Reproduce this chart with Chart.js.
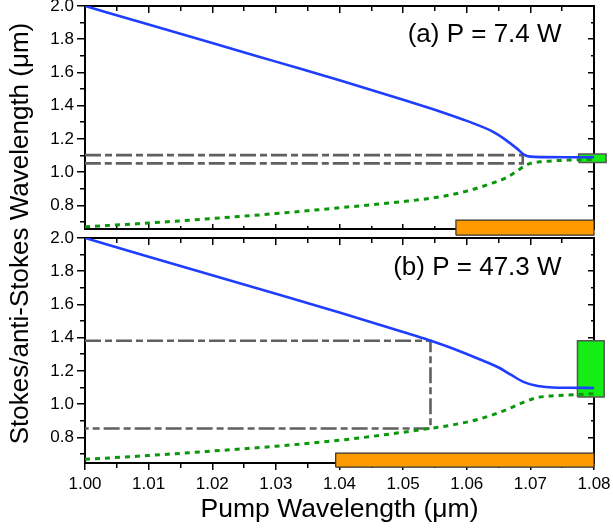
<!DOCTYPE html>
<html>
<head>
<meta charset="utf-8">
<script src="https://cdn.jsdelivr.net/npm/chart.js@4.4.1/dist/chart.umd.min.js"></script>
<style>
  html, body { margin: 0; padding: 0; background: #fff; }
</style>
</head>
<body>
<canvas id="chart" width="613" height="529"></canvas>
<script>
// pump wavelength samples (µm)
const pumpA = [1.000, 1.010, 1.020, 1.030, 1.040, 1.050, 1.056, 1.060, 1.064, 1.066, 1.068, 1.069, 1.070, 1.072, 1.076, 1.080];
const pumpB = [1.000, 1.010, 1.020, 1.030, 1.040, 1.050, 1.054, 1.058, 1.062, 1.065, 1.067, 1.069, 1.071, 1.073, 1.076, 1.080];

// (a) P = 7.4 W
const stokesA = [2.000, 1.888, 1.777, 1.665, 1.553, 1.435, 1.362, 1.308, 1.245, 1.197, 1.138, 1.105, 1.093, 1.090, 1.089, 1.089];
const antiA   = [0.670, 0.693, 0.720, 0.750, 0.785, 0.822, 0.852, 0.885, 0.933, 0.962, 1.008, 1.035, 1.052, 1.063, 1.072, 1.076];
// (b) P = 47.3 W
const stokesB = [2.000, 1.887, 1.775, 1.664, 1.551, 1.434, 1.386, 1.332, 1.270, 1.220, 1.175, 1.132, 1.110, 1.101, 1.098, 1.097];
const antiB   = [0.667, 0.690, 0.717, 0.746, 0.782, 0.830, 0.852, 0.876, 0.910, 0.948, 0.978, 1.012, 1.038, 1.048, 1.055, 1.062];

// dash-dot guide boxes
const guideAx = [1.000, 1.0688, 1.0688, 1.000];
const guideAy = [1.102, 1.102, 1.052, 1.052];
const guideBx = [1.000, 1.0543, 1.0543, 1.000];
const guideBy = [1.381, 1.381, 0.853, 0.853];

// gain band (green) and pump band (orange)
const gainAx = [1.0776, 1.0819], gainAy = [1.058, 1.108];
const gainBx = [1.0774, 1.0816], gainBy = [1.042, 1.381];
const bandAx = [1.0583, 1.080],  bandAy = [0.620, 0.711];
const bandBx = [1.0394, 1.080],  bandBy = [0.620, 0.705];

// axes
const xRange = [1.00, 1.08];
const yRangeA = [0.657, 2.0];
const yRangeB = [0.645, 2.0];
const noteText = ['(a) P = 7.4 W', '(b) P = 47.3 W'];

const FONT = "'Liberation Sans', Arial, Helvetica, sans-serif";
Chart.defaults.font.family = FONT;
Chart.defaults.color = '#000';

const pts = (xs, ys) => xs.map((x, i) => ({x, y: ys[i]}));
const rect = (xs, ys) => pts([xs[0], xs[1], xs[1], xs[0], xs[0]], [ys[0], ys[0], ys[1], ys[1], ys[0]]);
const onStep = (v, s) => Math.abs(v / s - Math.round(v / s)) < 1e-6;
// minor ticks: only a short piece of the tick line is drawn, next to the axis
const tickDash = (step, len, minor, fromAxis) => c =>
  (c.tick && onStep(c.tick.value, step)) ? [] : (fromAxis ? [minor, 40] : [0, len - minor, minor, 40]);

const curve = (data, axis, color, width, dash) => ({
  data, yAxisID: axis, borderColor: color, borderWidth: width, borderDash: dash || [],
  pointRadius: 0, cubicInterpolationMode: 'monotone', fill: false, borderCapStyle: 'butt'
});
const box = (data, axis, fillColor, edge, width) => ({
  data, yAxisID: axis, borderColor: edge, borderWidth: width, backgroundColor: fillColor,
  pointRadius: 0, tension: 0, fill: 'shape', clip: false
});

const BLUE = '#1f3dff', GREEN = '#0c960c', GRAY = '#606060';
const DOTS = [5, 5], DASHDOT = [16, 4, 7, 4];

const datasets = [
  curve(pts(pumpA, stokesA), 'yA', BLUE, 2.6),
  curve(pts(pumpB, stokesB), 'yB', BLUE, 2.6),
  curve(pts(pumpA, antiA), 'yA', GREEN, 3, DOTS),
  curve(pts(pumpB, antiB), 'yB', GREEN, 3, DOTS),
  {...curve(pts(guideAx, guideAy), 'yA', GRAY, 2.6, DASHDOT), cubicInterpolationMode: 'default', tension: 0},
  {...curve(pts(guideBx, guideBy), 'yB', GRAY, 2.6, DASHDOT), cubicInterpolationMode: 'default', tension: 0},
  box(rect(gainAx, gainAy), 'yA', '#14ee14', '#555', 1.5),
  box(rect(gainBx, gainBy), 'yB', '#14ee14', '#555', 1.5),
  box(rect(bandAx, bandAy), 'yA', '#ff9a00', '#333', 1.2),
  box(rect(bandBx, bandBy), 'yB', '#ff9a00', '#333', 1.2)
];

const tickGrid = (len, dash) => ({
  drawOnChartArea: false, tickLength: len, tickWidth: 1.5, tickColor: '#000',
  color: '#000', lineWidth: 1.5, tickBorderDash: dash
});

// left axis of one panel
function leftAxis(range, weight, stackWeight) {
  return {
    type: 'linear', position: 'left', stack: 'left', stackWeight, weight,
    min: range[0], max: range[1],
    ticks: { stepSize: 0.1, includeBounds: false, autoSkip: false, padding: 3, font: {size: 17}, color: '#000',
      callback: v => onStep(v, 0.2) ? v.toFixed(1) : '' },
    grid: tickGrid(8, tickDash(0.2, 8, 5, false)),
    border: { color: '#000', width: 2 },
    afterFit: s => { s.width = 85; s.paddingTop = 0; s.paddingBottom = 0; }
  };
}
// right frame of one panel, ticks pointing inward
function rightAxis(range, weight, stackWeight) {
  return {
    type: 'linear', position: 'right', stack: 'right', stackWeight, weight,
    min: range[0], max: range[1],
    ticks: { display: false, stepSize: 0.1, includeBounds: false, autoSkip: false },
    grid: tickGrid(-6, tickDash(0.2, 6, 4, true)),
    border: { color: '#000', width: 2 },
    afterFit: s => { s.width = 0; s.paddingTop = 0; s.paddingBottom = 0; }
  };
}
// horizontal frame line placed on a panel edge
function frameX(pos, len, z) {
  return {
    type: 'linear', axis: 'x', position: pos, min: xRange[0], max: xRange[1], z: z || 0,
    ticks: { display: false, stepSize: 0.005, autoSkip: false },
    grid: tickGrid(len, tickDash(0.01, 6, 4, true)),
    border: { color: '#000', width: 2 }
  };
}
const spacer = (position, weight, title) => ({
  type: 'linear', position, stack: position, stackWeight: 9, weight, min: 0, max: 1,
  ticks: { display: false }, grid: { display: false }, border: { display: false },
  title: title ? { display: true, text: title, font: {size: 26}, color: '#000', padding: {top: 5, bottom: 0} } : { display: false },
  afterFit: s => { s.width = position === 'left' ? 85 : 0; s.paddingTop = 0; s.paddingBottom = 0; }
});

// the band boxes poke out of the frame, so let their fill run past the plot area
const looseFill = {
  id: 'looseFill',
  beforeDatasetsDraw(chart) {
    const a = chart.chartArea;
    chart.$keptArea = {...a};
    a.right += 16; a.bottom += 8; a.width += 16; a.height += 8;
  },
  afterDatasetsDraw(chart) {
    Object.assign(chart.chartArea, chart.$keptArea);
  }
};

const notePlugin = {
  id: 'notes',
  afterDatasetsDraw(chart) {
    const {ctx, scales} = chart;
    ctx.save();
    ctx.font = '26px ' + FONT;
    ctx.fillStyle = '#000';
    ctx.textAlign = 'right';
    ctx.textBaseline = 'alphabetic';
    const xr = scales.x.getPixelForValue(1.0749);
    ctx.fillText(noteText[0], xr, scales.yA.getPixelForValue(1.785));
    ctx.fillText(noteText[1], xr, scales.yB.getPixelForValue(1.779));
    ctx.restore();
  }
};

new Chart(document.getElementById('chart'), {
  type: 'line',
  data: { datasets },
  plugins: [looseFill, notePlugin],
  options: {
    responsive: false,
    animation: false,
    devicePixelRatio: 1,
    layout: { padding: { left: 0, right: 19, top: 6, bottom: 0 } },
    plugins: { legend: { display: false }, tooltip: { enabled: false } },
    scales: {
      x: {
        type: 'linear', position: 'bottom', min: xRange[0], max: xRange[1], z: 1,
        ticks: { stepSize: 0.005, autoSkip: false, maxRotation: 0, padding: 4, font: {size: 17}, color: '#000',
          callback: v => onStep(v, 0.01) ? v.toFixed(2) : '' },
        grid: tickGrid(7, tickDash(0.01, 7, 4, true)),
        border: { color: '#000', width: 2 },
        title: { display: true, text: 'Pump Wavelength (μm)', font: {size: 26.5}, color: '#000', padding: {top: 0, bottom: 3} },
        afterFit: s => { s.height = 66; s.paddingLeft = 0; s.paddingRight = 0; }
      },
      yA: leftAxis(yRangeA, 3, 223),
      yG: spacer('left', 2, 'Stokes/anti-Stokes Wavelength (μm)'),
      yB: leftAxis(yRangeB, 1, 225),
      yAr: rightAxis(yRangeA, 1, 223),
      yGr: spacer('right', 2),
      yBr: rightAxis(yRangeB, 3, 225),
      xTA: frameX({yA: yRangeA[1]}, 6),
      xBA: frameX({yA: yRangeA[0]}, -6, 1),
      xTB: frameX({yB: yRangeB[1]}, 6)
    }
  }
});
</script>
</body>
</html>
